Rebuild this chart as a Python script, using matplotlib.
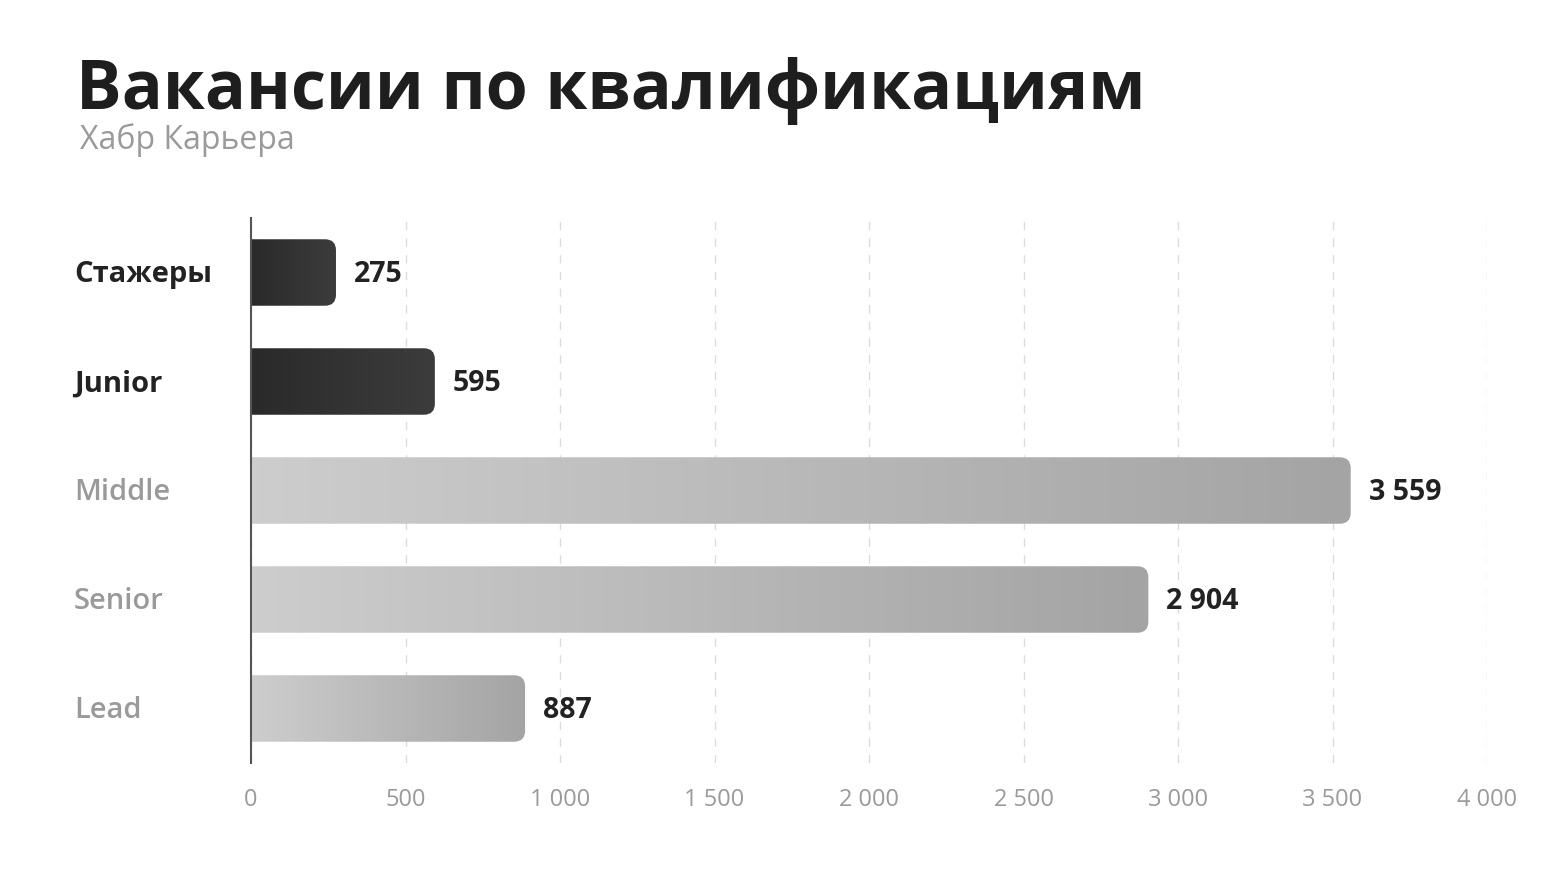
import matplotlib
matplotlib.use('Agg')
import matplotlib.pyplot as plt
import numpy as np
from matplotlib.patches import FancyBboxPatch
from matplotlib.colors import LinearSegmentedColormap
from matplotlib.ticker import FuncFormatter
import matplotlib.transforms as mtransforms

plt.rcParams['font.family'] = ['Open Sans', 'DejaVu Sans']

categories = ['Стажеры', 'Junior', 'Middle', 'Senior', 'Lead']
values = [275, 595, 3559, 2904, 887]
highlight = [True, True, False, False, False]
xticks = [0, 500, 1000, 1500, 2000, 2500, 3000, 3500, 4000]

fig = plt.figure(figsize=(15.6, 8.77), dpi=100)
fig.patch.set_facecolor('white')
ax = fig.add_axes([251 / 1560, 1 - 763 / 877, (1487 - 251) / 1560, (763 - 218) / 877])

xmax = 4000
ax.set_xlim(0, xmax)
ax.set_ylim(len(categories) - 0.5, -0.5)

dark_cmap = LinearSegmentedColormap.from_list('dark', ['#2a2a2a', '#3c3c3c'])
light_cmap = LinearSegmentedColormap.from_list('light', ['#cdcdcd', '#a4a4a4'])

bar_h = 0.61
# pixel sizes -> data units for the corner rounding
px_x = xmax / (1487 - 251)
px_y = len(categories) / (763 - 218)
radius = 11 * px_x
aspect = px_y / px_x
grad = np.linspace(0, 1, 256).reshape(1, -1)
trans = mtransforms.blended_transform_factory(fig.transFigure, ax.transData)

for i, (cat, val, hl) in enumerate(zip(categories, values, highlight)):
    y0 = i - bar_h / 2
    patch = FancyBboxPatch((-60, y0), val + 60, bar_h,
                           boxstyle='round,pad=0,rounding_size=%f' % radius,
                           mutation_aspect=aspect,
                           facecolor='none', edgecolor='none')
    ax.add_patch(patch)
    im = ax.imshow(grad, extent=[0, val, y0 + bar_h, y0], aspect='auto',
                   cmap=dark_cmap if hl else light_cmap, zorder=3,
                   interpolation='bicubic')
    im.set_clip_path(patch)
    ax.annotate(f'{val:,}'.replace(',', ' '), xy=(val, i + 0.02), xytext=(13, 0),
                textcoords='offset points', va='center', ha='left',
                fontsize=20.5, fontweight='bold', color='#222222')
    # category label, left aligned
    ax.text(74 / 1560, i + 0.02, cat, transform=trans, va='center', ha='left',
            fontsize=21, fontweight='bold' if hl else 'semibold',
            color='#222222' if hl else '#9a9a9a')

ax.set_ylim(len(categories) - 0.5, -0.5)
ax.set_xlim(0, xmax)
ax.set_yticks([])
ax.set_xticks(xticks)
ax.xaxis.set_major_formatter(FuncFormatter(lambda v, p: f'{int(v):,}'.replace(',', ' ')))
ax.tick_params(axis='x', length=0, pad=18, labelsize=17, labelcolor='#9a9a9a')
ax.grid(axis='x', linestyle=(0, (6, 6)), color='#dcdcdc', linewidth=1)
ax.set_axisbelow(True)
for s in ['top', 'right', 'bottom']:
    ax.spines[s].set_visible(False)
ax.spines['left'].set_color('#555555')
ax.spines['left'].set_linewidth(1.5)
ax.spines['left'].set_zorder(5)

fig.text(76 / 1560, 1 - 91 / 877, 'Вакансии по квалификациям', fontsize=49,
         fontweight='bold', color='#1e1e1e', va='center', ha='left')
fig.text(80 / 1560, 1 - 140 / 877, 'Хабр Карьера', fontsize=23,
         fontweight='normal', color='#9a9a9a', va='center', ha='left')

fig.savefig('out.png', dpi=100, facecolor='white')
